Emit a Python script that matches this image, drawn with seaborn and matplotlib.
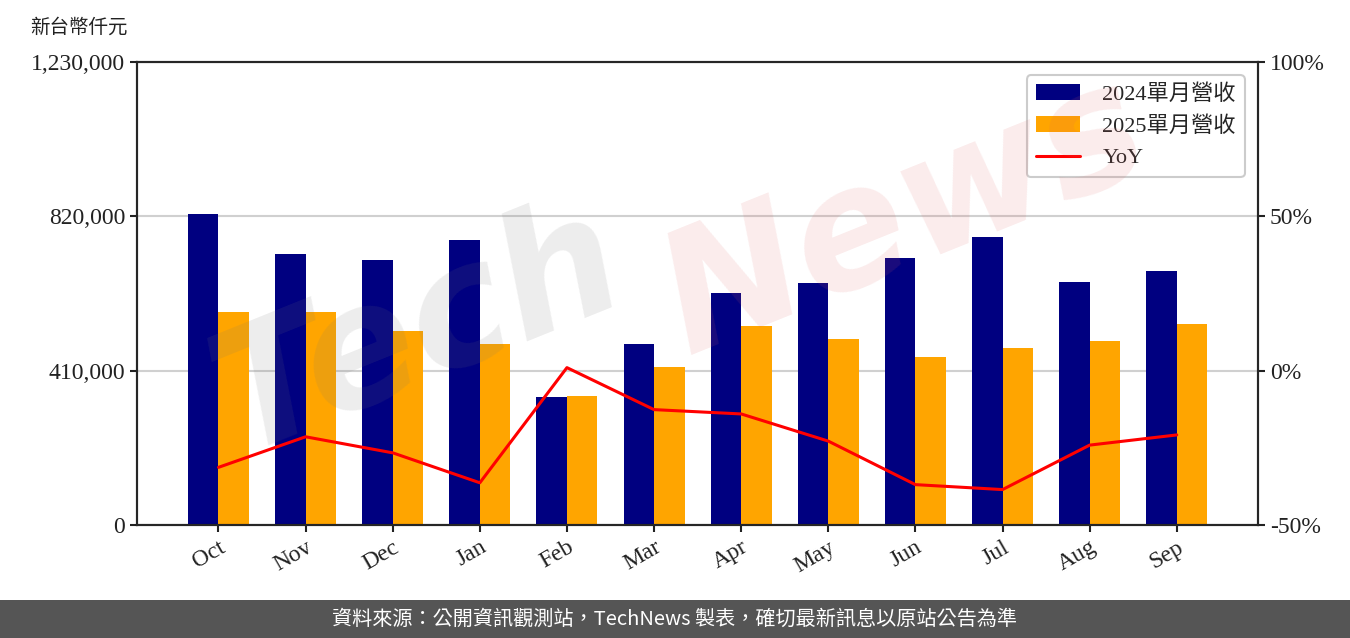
import matplotlib
matplotlib.use('Agg')
import matplotlib.pyplot as plt
import seaborn as sns
import pandas as pd
from matplotlib.ticker import FuncFormatter, FixedLocator

# data (thousand NTD)
months = ['Oct', 'Nov', 'Dec', 'Jan', 'Feb', 'Mar', 'Apr', 'May', 'Jun', 'Jul', 'Aug', 'Sep']
rev_2024 = [826000, 720000, 704000, 757000, 340000, 481000, 616000, 643000, 709000, 765000, 646000, 675000]
rev_2025 = [566000, 566000, 515000, 481000, 343000, 420000, 529000, 494000, 446000, 470000, 489000, 534000]
yoy = [-31.3, -21.4, -26.6, -36.3, 1.0, -12.6, -14.0, -22.8, -36.9, -38.5, -24.1, -20.8]
series_names = ['2024單月營收', '2025單月營收']

sns.set_style('white')
plt.rcParams['font.family'] = ['Liberation Serif', 'Noto Sans CJK TC', 'DejaVu Sans']

df = pd.DataFrame({
    'month': months * 2,
    'rev': rev_2024 + rev_2025,
    'series': [series_names[0]] * 12 + [series_names[1]] * 12,
})

fig = plt.figure(figsize=(13.5, 6.38), dpi=100)
ax = fig.add_axes([0.1015, 0.177, 0.8305, 0.7258])

sns.barplot(data=df, x='month', y='rev', hue='series', order=months,
            palette=['#000080', '#FFA500'], width=0.7, gap=0, saturation=1,
            errorbar=None, linewidth=0, ax=ax, zorder=2)
ax.set_xlim(-0.935, 11.935)
ax.set_ylim(0, 1230000)
ax.yaxis.set_major_locator(FixedLocator([0, 410000, 820000, 1230000]))
ax.yaxis.set_major_formatter(FuncFormatter(lambda v, p: f'{int(v):,}'))
ax.grid(axis='y', color='#d0d0d0', lw=1.5, zorder=0)
ax.set_axisbelow(True)
ax.set_xlabel('')
ax.set_ylabel('')
for s in ax.spines.values():
    s.set_color('black')
    s.set_linewidth(1.5)
ax.tick_params(axis='both', direction='out', length=5, width=1.5, labelsize=17,
               left=True, bottom=True, colors='#222222')
for lbl in ax.get_xticklabels():
    lbl.set_rotation(30)
    lbl.set_ha('right')
    lbl.set_rotation_mode('anchor')

ax2 = ax.twinx()
sns.lineplot(x=list(range(len(months))), y=yoy, color='red', lw=2.2, ax=ax2, zorder=3)
ax2.set_ylim(-50, 100)
ax2.yaxis.set_major_locator(FixedLocator([-50, 0, 50, 100]))
ax2.yaxis.set_major_formatter(FuncFormatter(lambda v, p: f'{int(v)}%'))
ax2.tick_params(axis='y', direction='out', length=5, width=1.5, labelsize=17,
                right=True, colors='#222222')
for s in ax2.spines.values():
    s.set_linewidth(1.5)

# legend combining both axes
h1, l1 = ax.get_legend_handles_labels()
h2 = ax2.get_lines()
if ax.get_legend():
    ax.get_legend().remove()
leg = ax2.legend(h1 + [h2[0]], l1 + ['YoY'], loc='upper right', fontsize=16,
                 frameon=True, framealpha=1, edgecolor='#cccccc',
                 borderaxespad=0.6, handlelength=2.0, handletextpad=1.0)
leg.get_frame().set_linewidth(1.5)

# watermark
fig.text(0.31, 0.48, 'Tech', fontsize=120, fontstyle='italic', fontweight='bold',
         family='DejaVu Sans', color='#777777', alpha=0.13, rotation=22,
         ha='center', va='center', zorder=10)
fig.text(0.67, 0.66, 'News', fontsize=120, fontstyle='italic', fontweight='bold',
         family='DejaVu Sans', color='#e06060', alpha=0.12, rotation=22,
         ha='center', va='center', zorder=10)

fig.text(0.022, 0.957, '新台幣仟元', fontsize=14, family=['Noto Sans CJK TC'],
         ha='left', va='center', color='#222222')

# footer band
fig.patches.append(plt.Rectangle((0, 0), 1, 0.0596, transform=fig.transFigure,
                                 facecolor='#555555', edgecolor='none', zorder=0))
fig.text(0.5, 0.0298, '資料來源：公開資訊觀測站，TechNews 製表，確切最新訊息以原站公告為準',
         fontsize=14.5, family=['Noto Sans CJK TC'], color='white',
         ha='center', va='center')

fig.savefig('out.png', dpi=100)
